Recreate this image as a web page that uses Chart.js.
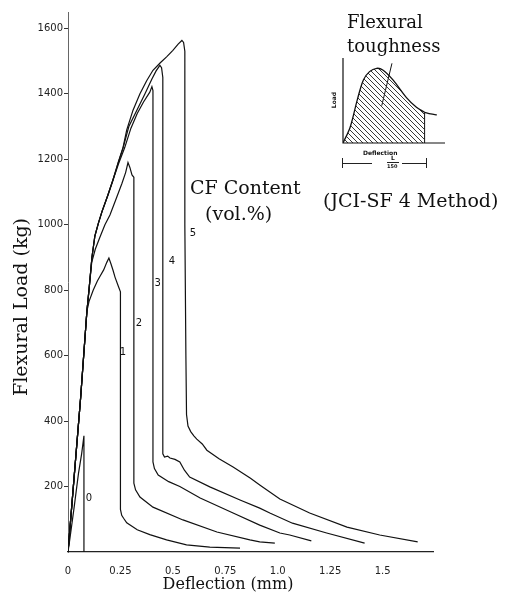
<!DOCTYPE html>
<html><head><meta charset="utf-8">
<script src="https://cdn.jsdelivr.net/npm/chart.js@4.4.1/dist/chart.umd.min.js"></script>
<style>
html,body{margin:0;padding:0;background:#fff;}
#wrap{position:relative;width:517px;height:598px;overflow:hidden;}
#main{position:absolute;left:0;top:0;}
#inset{position:absolute;left:333px;top:48px;}
.t{position:absolute;font-family:"DejaVu Serif",serif;color:#111;white-space:nowrap;line-height:1;}
.s{position:absolute;font-family:"DejaVu Sans",sans-serif;font-weight:bold;color:#111;white-space:nowrap;line-height:1;}
.hl{position:absolute;height:0;border-top:1px solid #222;}
.vl{position:absolute;width:0;border-left:1px solid #222;}
</style></head><body>
<div id="wrap">
<canvas id="main" width="517" height="598"></canvas>
<canvas id="inset" width="122" height="105"></canvas>
<div class="t" style="left:190px;top:178px;font-size:19px;">CF Content</div>
<div class="t" style="left:205px;top:204px;font-size:19px;">(vol.%)</div>
<div class="t" style="left:347px;top:13px;font-size:18px;">Flexural</div>
<div class="t" style="left:347px;top:37px;font-size:18px;">toughness</div>
<div class="t" style="left:323px;top:191px;font-size:19px;">(JCI-SF 4 Method)</div>
<div class="s" style="left:326px;top:97px;font-size:6px;transform:rotate(-90deg);">Load</div>
<div class="s" style="left:363px;top:150px;font-size:6px;">Deflection</div>
<div class="vl" style="left:342px;top:158px;height:10px;"></div>
<div class="hl" style="left:342px;top:163px;width:30px;"></div>
<div class="s" style="left:391px;top:155px;font-size:6px;">L</div>
<div class="hl" style="left:387px;top:162px;width:12px;"></div>
<div class="s" style="left:387px;top:164px;font-size:5px;">150</div>
<div class="hl" style="left:402px;top:163px;width:24px;"></div>
<div class="vl" style="left:426px;top:158px;height:10px;"></div>
</div>
<script>
// ---- data (deflection mm, flexural load kg) ----
const cf0 = [[0,0],[0.01,45],[0.03,140],[0.05,240],[0.065,300],[0.076,355],[0.076,0]];
const cf1 = [[0,0],[0.03,235],[0.06,470],[0.09,735],[0.1,765],[0.12,800],[0.14,828],[0.152,842],[0.17,862],[0.185,885],[0.195,898],[0.205,880],[0.215,860],[0.224,840],[0.24,812],[0.25,795],[0.25,130],[0.256,112],[0.265,103],[0.28,89],[0.33,68],[0.39,53],[0.47,37],[0.565,22],[0.676,15],[0.82,12]];
const cf2 = [[0,0],[0.03,235],[0.06,470],[0.09,735],[0.1,800],[0.113,885],[0.13,925],[0.152,962],[0.176,1000],[0.2,1030],[0.23,1080],[0.257,1126],[0.275,1160],[0.286,1190],[0.295,1175],[0.305,1152],[0.314,1145],[0.314,210],[0.322,190],[0.343,168],[0.405,137],[0.548,98],[0.71,61],[0.867,37],[0.914,31],[0.986,27]];
const cf3 = [[0,0],[0.03,235],[0.06,470],[0.09,735],[0.1,800],[0.114,900],[0.128,965],[0.145,1005],[0.162,1040],[0.19,1090],[0.214,1136],[0.24,1185],[0.27,1235],[0.3,1295],[0.33,1340],[0.36,1375],[0.39,1405],[0.4,1422],[0.405,1410],[0.405,275],[0.412,255],[0.43,235],[0.48,215],[0.533,200],[0.63,165],[0.787,119],[0.914,82],[1.01,58],[1.057,52],[1.16,34]];
const cf4 = [[0,0],[0.03,235],[0.06,470],[0.09,735],[0.1,800],[0.114,900],[0.128,965],[0.145,1005],[0.162,1040],[0.19,1090],[0.214,1136],[0.24,1190],[0.265,1240],[0.29,1300],[0.33,1352],[0.367,1400],[0.4,1445],[0.42,1470],[0.438,1487],[0.446,1480],[0.452,1450],[0.452,300],[0.46,290],[0.475,293],[0.486,287],[0.51,283],[0.533,275],[0.555,250],[0.58,229],[0.676,199],[0.82,159],[0.914,134],[0.962,119],[1.07,88],[1.233,58],[1.414,27]];
const cf5 = [[0,0],[0.03,235],[0.06,470],[0.09,735],[0.1,800],[0.114,900],[0.128,965],[0.145,1005],[0.162,1040],[0.19,1090],[0.214,1136],[0.24,1192],[0.262,1235],[0.28,1290],[0.31,1350],[0.343,1400],[0.375,1440],[0.405,1472],[0.44,1495],[0.47,1513],[0.5,1533],[0.525,1552],[0.543,1563],[0.551,1557],[0.557,1530],[0.557,1000],[0.562,600],[0.565,420],[0.572,385],[0.585,368],[0.6,355],[0.614,345],[0.64,330],[0.662,311],[0.72,285],[0.787,260],[0.87,225],[0.914,205],[1.01,162],[1.152,119],[1.33,76],[1.486,52],[1.667,31]];
const curveNames = ['0','1','2','3','4','5'];
const curveLabelX = [0.10,0.262,0.338,0.428,0.495,0.595];
const curveLabelY = [163,611,700,821,888,974];
const xTicks = [0,0.25,0.5,0.75,1.0,1.25,1.5];
const xTickLabels = ['0','0.25','0.5','0.75','1.0','1.25','1.5'];
const yTicks = [200,400,600,800,1000,1200,1400,1600];
const yTickLabels = ['200','400','600','800','1000','1200','1400','1600'];
// inset schematic (arbitrary units)
const insetHump = [[0,0],[7,19],[14,52],[20,76],[26,86],[33,90],[39,88],[49,76],[62,55],[72,43],[80,37]];
const insetTail = [[80,37],[86,35],[92,34]];
const insetLimit = [[80,0],[80,37]];
const insetPointer = [[38,45],[48,96]];

const toXY = a => a.map(p => ({x:p[0], y:p[1]}));
const curves = [cf0,cf1,cf2,cf3,cf4,cf5];

const annot = {
  id:'annot',
  afterDraw(chart){
    const ctx = chart.ctx, xs = chart.scales.x, ys = chart.scales.y;
    ctx.save();
    ctx.fillStyle = '#111';
    ctx.font = '10px "DejaVu Sans"';
    ctx.textAlign = 'center'; ctx.textBaseline = 'middle';
    curveNames.forEach((n,i)=>{
      ctx.fillText(n, xs.getPixelForValue(curveLabelX[i]), ys.getPixelForValue(curveLabelY[i]));
    });
    ctx.font = '16px "DejaVu Serif"';
    ctx.fillText('Deflection (mm)', 228, 585);
    ctx.translate(22, 307);
    ctx.rotate(-Math.PI/2);
    ctx.font = '19px "DejaVu Serif"';
    ctx.fillText('Flexural Load (kg)', 0, 0);
    ctx.restore();
  }
};

new Chart(document.getElementById('main'), {
  type:'line',
  data:{datasets: curves.map((c,i)=>({label:'CF '+curveNames[i], data:toXY(c), borderColor:'#111', borderWidth:1.2, pointRadius:0, tension:0, fill:false}))},
  options:{
    responsive:false, animation:false, devicePixelRatio:1,
    layout:{padding:{top:12,right:84,bottom:0,left:0}},
    plugins:{legend:{display:false}, tooltip:{enabled:false}},
    scales:{
      x:{type:'linear', min:0, max:1.74,
        afterBuildTicks:s=>{s.ticks = xTicks.map(v=>({value:v}));},
        afterFit:s=>{s.height = 46;},
        ticks:{callback:(v,i)=>xTickLabels[i], font:{family:'DejaVu Sans', size:10}, color:'#222', padding:5, maxRotation:0, autoSkip:false},
        grid:{display:false},
        border:{display:true, color:'#222', width:1.2}
      },
      y:{type:'linear', min:0, max:1650,
        afterBuildTicks:s=>{s.ticks = yTicks.map(v=>({value:v}));},
        afterFit:s=>{s.width = 68;},
        ticks:{callback:(v,i)=>yTickLabels[i], font:{family:'DejaVu Sans', size:10}, color:'#222', padding:1, autoSkip:false},
        grid:{display:true, drawOnChartArea:false, tickLength:4, color:'#333'},
        border:{display:true, color:'#666', width:1, dash:[6,2,1,2]}
      }
    }
  },
  plugins:[annot]
});

// hatch pattern
const pc = document.createElement('canvas'); pc.width = 5; pc.height = 5;
const px = pc.getContext('2d'); px.strokeStyle = '#222'; px.lineWidth = 0.9;
px.beginPath(); px.moveTo(-1,-1); px.lineTo(6,6); px.moveTo(-1,4); px.lineTo(1,6); px.moveTo(4,-1); px.lineTo(6,1); px.stroke();
const insetCanvas = document.getElementById('inset');
const hatch = insetCanvas.getContext('2d').createPattern(pc,'repeat');

const insetAxes = {
  id:'insetAxes',
  afterDraw(chart){
    const a = chart.chartArea, ctx = chart.ctx;
    ctx.save(); ctx.strokeStyle = '#111'; ctx.lineWidth = 1.2;
    ctx.beginPath(); ctx.moveTo(a.left, a.top-2); ctx.lineTo(a.left, a.bottom); ctx.lineTo(a.right, a.bottom); ctx.stroke();
    ctx.restore();
  }
};
new Chart(insetCanvas, {
  type:'line',
  data:{datasets:[
    {data:toXY(insetHump), borderColor:'#111', borderWidth:1.3, pointRadius:0, tension:0.35, fill:'origin', backgroundColor:hatch},
    {data:toXY(insetTail), borderColor:'#111', borderWidth:1.3, pointRadius:0, tension:0.3, fill:false},
    {data:toXY(insetLimit), borderColor:'#111', borderWidth:1, pointRadius:0, fill:false},
    {data:toXY(insetPointer), borderColor:'#111', borderWidth:1, pointRadius:0, fill:false}
  ]},
  options:{
    responsive:false, animation:false, devicePixelRatio:1,
    layout:{padding:{left:10,top:12,right:10,bottom:10}},
    plugins:{legend:{display:false}, tooltip:{enabled:false}},
    scales:{x:{type:'linear',min:0,max:100,display:false}, y:{min:0,max:100,display:false}}
  },
  plugins:[insetAxes]
});
</script>
</body></html>
